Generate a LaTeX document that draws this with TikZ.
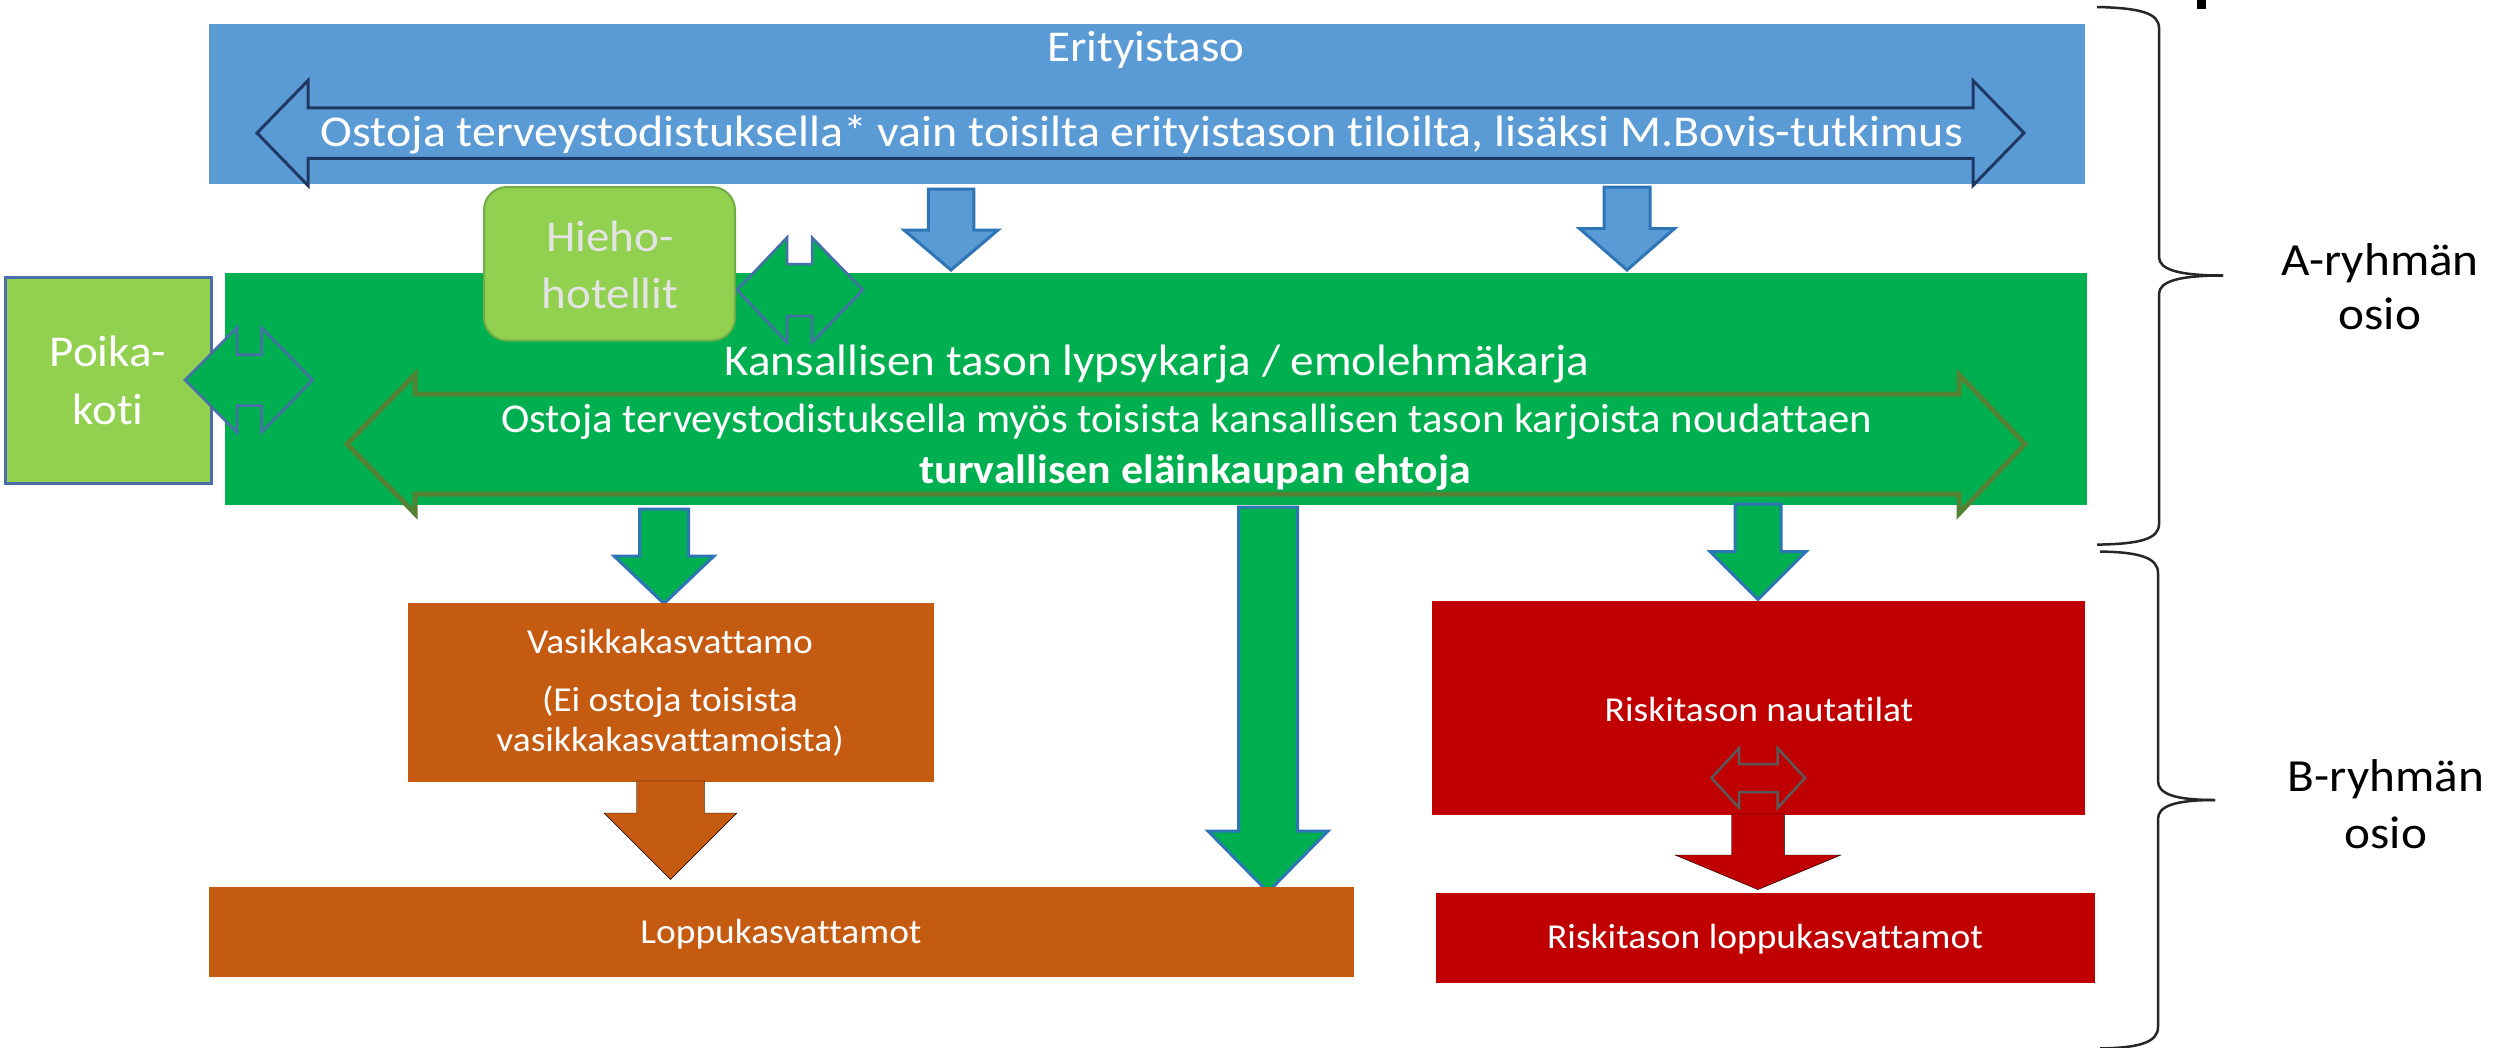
\documentclass[tikz,border=0pt]{standalone}
\usepackage{fontspec}
\setmainfont{Carlito}[Ligatures={NoCommon}]
\definecolor{bluefill}{HTML}{5B9BD5}
\definecolor{blueline}{HTML}{2E75B6}
\definecolor{navyline}{HTML}{203864}
\definecolor{greenfill}{HTML}{00B050}
\definecolor{lightgreen}{HTML}{92D050}
\definecolor{oliveline}{HTML}{548235}
\definecolor{slateline}{HTML}{4A6EAA}
\definecolor{orangefill}{HTML}{C55A11}
\definecolor{redfill}{HTML}{C00000}
\definecolor{greyline}{HTML}{595959}
\definecolor{hiehotext}{HTML}{E4E4E4}
\definecolor{hieholine}{HTML}{70AD47}
\newcommand\dblarr[8][]{\draw[#1] (#2,#6) -- (#3,#6-#8) -- (#3,#6-#7) -- (#4,#6-#7) -- (#4,#6-#8) -- (#5,#6) -- (#4,#6+#8) -- (#4,#6+#7) -- (#3,#6+#7) -- (#3,#6+#8) -- cycle;}
\newcommand\downarr[7][]{\draw[#1] (#2-#6,#3) -- (#2+#6,#3) -- (#2+#6,#4) -- (#2+#7,#4) -- (#2,#5) -- (#2-#7,#4) -- (#2-#6,#4) -- cycle;}
\tikzset{
  box/.style={rectangle, inner sep=0pt, outer sep=0pt},
  txtbase/.style={inner sep=0pt, anchor=base, xscale=1.07, transform shape},
  bigtxt/.style={txtbase, text=white, font=\fontsize{44}{53}\selectfont},
  midtxt/.style={txtbase, text=white, font=\fontsize{41}{49}\selectfont},
  smalltxt/.style={txtbase, text=white, font=\fontsize{35}{42}\selectfont},
  sidetxt/.style={txtbase, text=black, font=\fontsize{46}{55}\selectfont},
  bluearr/.style={fill=bluefill, draw=blueline, line width=3pt, line join=miter},
  greenarr/.style={fill=greenfill, draw=blueline, line width=3pt, line join=miter},
  bracepath/.style={draw=black!85, line width=2.5pt},
}
\begin{document}
\begin{tikzpicture}[x=1pt,y=-1pt]
\useasboundingbox[fill=white] (0,0) rectangle (2506,1047);
% top black mark
\fill[black] (2197,0) rectangle (2206,9);
% blue level
\node[box, fill=bluefill, minimum width=1876pt, minimum height=160pt] (erit) at (1147,104) {};
\dblarr[fill=bluefill, draw=navyline, line width=3pt]{257}{308}{1973}{2024}{133}{25.25}{52.5}
\node[bigtxt] (erittxt) at (1146,61) {Erityistaso};
\node[bigtxt, xscale=1.09/1.07] (eritarr) at (1142,146) {Ostoja terveystodistuksella* vain toisilta erityistason tiloilta, lisäksi M.Bovis-tutkimus};
\downarr[bluearr]{951}{189}{230}{270}{22.75}{47}
\downarr[bluearr]{1627}{187}{228.5}{270}{23}{47.5}
% green level
\node[box, fill=greenfill, minimum width=1862pt, minimum height=232pt] (kans) at (1156,388.5) {};
\node[box, fill=lightgreen, draw=slateline, line width=3pt, minimum width=206pt, minimum height=206.5pt] (poika) at (108.5,380.25) {};
\node[box, fill=lightgreen, draw=hieholine, line width=2pt, rounded corners=23pt, minimum width=251pt, minimum height=153.5pt] (hieho) at (609.5,263.75) {};
\dblarr[fill=greenfill, draw=slateline, line width=2.5pt]{185}{237}{261.5}{312.6}{380}{25.5}{52.5}
\dblarr[fill=greenfill, draw=slateline, line width=2.5pt]{737}{787}{812}{863}{290}{26}{52.5}
\dblarr[fill=greenfill, draw=oliveline, line width=5pt]{347}{415}{1959}{2025}{444}{50}{69.5}
\node[bigtxt] (poika1) at (108,366.8) {Poika-};
\node[bigtxt] (poika2) at (108,424) {koti};
\node[bigtxt, text=hiehotext] (hieho1) at (610,251) {Hieho-};
\node[bigtxt, text=hiehotext] (hieho2) at (610,308.3) {hotellit};
\node[bigtxt] (kanstxt) at (1157,375.3) {Kansallisen tason lypsykarja / emolehmäkarja};
\node[midtxt, xscale=1.042/1.07] (kans1) at (1187,432) {Ostoja terveystodistuksella myös toisista kansallisen tason karjoista noudattaen};
\node[midtxt, font=\fontsize{41}{49}\selectfont\bfseries] (kans2) at (1195,483.5) {turvallisen eläinkaupan ehtoja};
\downarr[greenarr]{664}{509}{556}{603.6}{24.5}{50}
\downarr[greenarr]{1268}{507}{831}{892}{29.5}{60}
\downarr[greenarr]{1758}{504}{551.6}{599.4}{23}{48}
% orange boxes
\node[box, fill=orangefill, minimum width=526pt, minimum height=179.5pt] (vasikka) at (671,692.25) {};
\node[smalltxt] (vas1) at (670,653.5) {Vasikkakasvattamo};
\node[smalltxt] (vas2) at (670,711) {(Ei ostoja toisista};
\node[smalltxt] (vas3) at (670,751) {vasikkakasvattamoista)};
\downarr[fill=orangefill]{670.5}{781}{813}{879.5}{34}{66.5}
\node[box, fill=orangefill, minimum width=1144.6pt, minimum height=90pt] (loppu) at (781.3,932) {};
\node[smalltxt] (loppu1) at (781,943) {Loppukasvattamot};
% red boxes
\node[box, fill=redfill, minimum width=652.6pt, minimum height=214.5pt] (riski) at (1758.3,707.75) {};
\node[smalltxt] (riski1) at (1759,721.5) {Riskitason nautatilat};
\dblarr[fill=redfill, draw=greyline, line width=2.5pt]{1711.5}{1739}{1777.7}{1805}{778}{14}{29.8}
\downarr[fill=redfill]{1758}{814}{855}{889.6}{26.3}{83}
\node[box, fill=redfill, minimum width=658.6pt, minimum height=90.3pt] (riskiloppu) at (1765.3,937.85) {};
\node[smalltxt] (riskiloppu1) at (1765,948) {Riskitason loppukasvattamot};
% braces
\draw[bracepath] (2097,7) .. controls (2140,8) and (2159,13) .. (2159,28) -- (2159,257)
  .. controls (2159,270) and (2180,275.5) .. (2223,275.5);
\draw[bracepath] (2223,275.5) .. controls (2180,275.5) and (2159,281) .. (2159,294) -- (2159,524)
  .. controls (2159,539) and (2140,544) .. (2097,544.6);
\draw[bracepath] (2100,551.6) .. controls (2140,552) and (2158,558) .. (2158,573) -- (2158,781)
  .. controls (2158,794) and (2175,800) .. (2215,800);
\draw[bracepath] (2215,800) .. controls (2175,800) and (2158,806) .. (2158,819) -- (2158,1027)
  .. controls (2158,1042) and (2140,1048) .. (2100,1048.4);
\node[sidetxt] (a1) at (2380,275.5) {A-ryhmän};
\node[sidetxt] (a2) at (2380,329.6) {osio};
\node[sidetxt] (b1) at (2386,791) {B-ryhmän};
\node[sidetxt] (b2) at (2386,848.8) {osio};
\end{tikzpicture}
\end{document}
